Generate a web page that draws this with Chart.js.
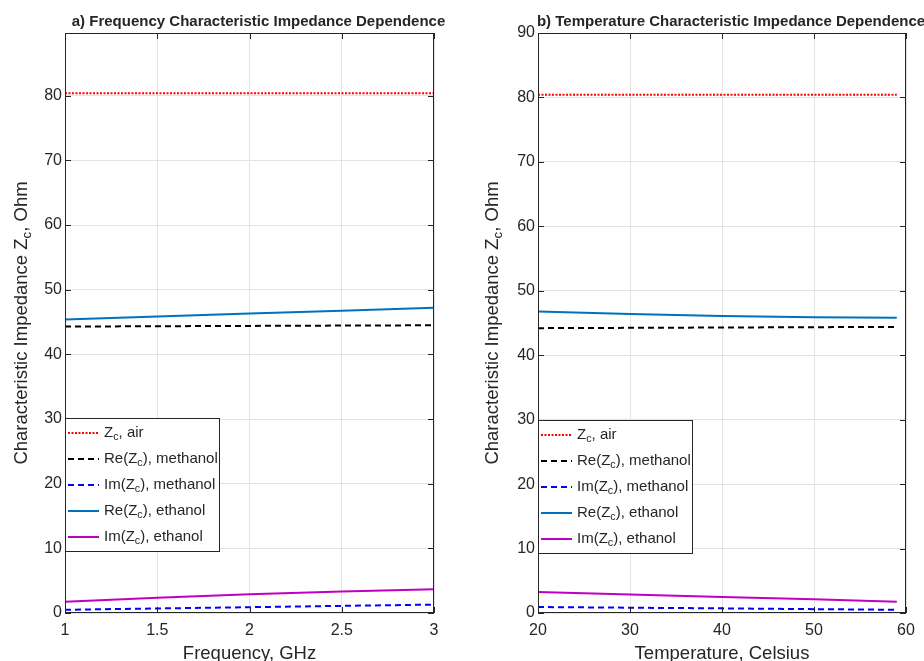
<!DOCTYPE html>
<html>
<head>
<meta charset="utf-8">
<script src="https://cdn.jsdelivr.net/npm/chart.js@4.4.0/dist/chart.umd.min.js"></script>
<style>
  body { margin: 0; background: #fff; }
  #wrap { position: relative; width: 924px; height: 661px; overflow: hidden; }
  canvas { position: absolute; top: 0; }
</style>
</head>
<body>
<div id="wrap">
  <canvas id="chartA" width="462" height="661" style="left:0"></canvas>
  <canvas id="chartB" width="462" height="661" style="left:462px"></canvas>
</div>
<script>
// a) frequency dependence
const freq = [1, 1.5, 2, 2.5, 3];
const airF = [80.4, 80.4, 80.4, 80.4, 80.4];
const reMethF = [44.3, 44.35, 44.4, 44.45, 44.5];
const imMethF = [0.5, 0.7, 0.9, 1.1, 1.3];
const reEthF = [45.4, 45.85, 46.3, 46.75, 47.2];
const imEthF = [1.75, 2.37, 2.9, 3.33, 3.67];

// b) temperature dependence
const temp = [20, 30, 40, 50, 59];
const airT = [80.4, 80.4, 80.4, 80.4, 80.4];
const reMethT = [44.2, 44.25, 44.3, 44.35, 44.4];
const imMethT = [0.93, 0.82, 0.72, 0.6, 0.5];
const reEthT = [46.8, 46.4, 46.1, 45.9, 45.8];
const imEthT = [3.26, 2.88, 2.5, 2.12, 1.75];

// ticks
const freqTicks = [1, 1.5, 2, 2.5, 3];
const tempTicks = [20, 30, 40, 50, 60];
const zTicksA = [0, 10, 20, 30, 40, 50, 60, 70, 80];
const zTicksB = [0, 10, 20, 30, 40, 50, 60, 70, 80, 90];

// legend labels, [text, isSubscript]
const legendLabels = [
  [['Z', 0], ['c', 1], [', air', 0]],
  [['Re(Z', 0], ['c', 1], ['), methanol', 0]],
  [['Im(Z', 0], ['c', 1], ['), methanol', 0]],
  [['Re(Z', 0], ['c', 1], ['), ethanol', 0]],
  [['Im(Z', 0], ['c', 1], ['), ethanol', 0]]
];
const yTitle = [['Characteristic Impedance Z', 0], ['c', 1], [', Ohm', 0]];

const lineStyles = [
  { color: '#ff0000', dash: [2, 1.5], width: 2 },
  { color: '#000000', dash: [6, 4], width: 2 },
  { color: '#0000ff', dash: [6, 4], width: 2 },
  { color: '#0072bd', dash: [], width: 2 },
  { color: '#c000c0', dash: [], width: 2 }
];

const TXT = '#262626';
const FONT = '"Liberation Sans", Arial, sans-serif';

function pts(xs, ys) {
  return xs.map((x, i) => ({ x: x, y: ys[i] }));
}

// text with subscripts, starting at x, middle at y
function partsWidth(ctx, parts, size) {
  let w = 0;
  parts.forEach(p => {
    ctx.font = (p[1] ? size * 0.72 : size) + 'px ' + FONT;
    w += ctx.measureText(p[0]).width;
  });
  return w;
}
function drawParts(ctx, parts, x, y, size) {
  ctx.textAlign = 'left';
  ctx.textBaseline = 'middle';
  parts.forEach(p => {
    ctx.font = (p[1] ? size * 0.72 : size) + 'px ' + FONT;
    ctx.fillText(p[0], x, p[1] ? y + size * 0.3 : y);
    x += ctx.measureText(p[0]).width;
  });
}

const decor = {
  id: 'decor',
  afterDraw(chart) {
    const o = chart.options.plugins.decor;
    const { ctx, chartArea: a, scales } = chart;
    const xs = scales.x, ys = scales.y;
    ctx.save();
    ctx.fillStyle = TXT;
    ctx.strokeStyle = TXT;

    // title
    ctx.font = 'bold 15px ' + FONT;
    ctx.textAlign = 'center';
    ctx.textBaseline = 'alphabetic';
    ctx.fillText(o.title, (a.left + a.right) / 2 + 9, 26);

    // x axis title
    ctx.font = '18.5px ' + FONT;
    ctx.fillText(o.xTitle, (a.left + a.right) / 2, 659);

    // y axis title
    ctx.save();
    ctx.translate(o.yTitleX, (a.top + a.bottom) / 2);
    ctx.rotate(-Math.PI / 2);
    const w = partsWidth(ctx, yTitle, 18.5);
    drawParts(ctx, yTitle, -w / 2, 0, 18.5);
    ctx.restore();

    // box
    ctx.lineWidth = 1;
    ctx.strokeRect(a.left + 0.5, a.top + 0.5, a.right - a.left - 1, a.bottom - a.top - 1);

    // inward ticks
    const tl = 6;
    ctx.beginPath();
    o.xTicks.forEach(v => {
      const px = Math.round(xs.getPixelForValue(v)) + 0.5;
      ctx.moveTo(px, a.bottom); ctx.lineTo(px, a.bottom - tl);
      ctx.moveTo(px, a.top); ctx.lineTo(px, a.top + tl);
    });
    o.yTicks.forEach(v => {
      const py = Math.round(ys.getPixelForValue(v)) + 0.5;
      ctx.moveTo(a.left, py); ctx.lineTo(a.left + tl, py);
      ctx.moveTo(a.right, py); ctx.lineTo(a.right - tl, py);
    });
    ctx.stroke();

    // legend
    const lg = o.legend;
    ctx.fillStyle = '#ffffff';
    ctx.fillRect(lg.x, lg.y, lg.w, lg.h);
    ctx.strokeStyle = TXT;
    ctx.lineWidth = 1;
    ctx.strokeRect(lg.x + 0.5, lg.y + 0.5, lg.w, lg.h);
    legendLabels.forEach((parts, i) => {
      const cy = lg.y + 15 + i * 26;
      const st = lineStyles[i];
      ctx.beginPath();
      ctx.strokeStyle = st.color;
      ctx.lineWidth = st.width;
      ctx.setLineDash(st.dash);
      ctx.moveTo(lg.x + 3, cy);
      ctx.lineTo(lg.x + 34, cy);
      ctx.stroke();
      ctx.setLineDash([]);
      ctx.fillStyle = TXT;
      drawParts(ctx, parts, lg.x + 39, cy, 15);
    });
    ctx.restore();
  }
};

function makeChart(id, xVals, series, cfg) {
  const datasets = series.map((ys, i) => ({
    data: pts(xVals, ys),
    borderColor: lineStyles[i].color,
    borderDash: lineStyles[i].dash,
    borderWidth: lineStyles[i].width,
    pointRadius: 0,
    fill: false,
    tension: 0
  }));
  return new Chart(document.getElementById(id), {
    type: 'line',
    data: { datasets: datasets },
    plugins: [decor],
    options: {
      responsive: false,
      animation: false,
      layout: { padding: { left: 0, right: cfg.padRight, top: 33, bottom: 0 } },
      plugins: {
        legend: { display: false },
        title: { display: false },
        tooltip: { enabled: false },
        decor: cfg.decor
      },
      scales: {
        x: {
          type: 'linear',
          min: cfg.xMin, max: cfg.xMax,
          afterBuildTicks: s => { s.ticks = cfg.decor.xTicks.map(v => ({ value: v })); },
          afterFit: s => { s.height = 48; },
          grid: { color: '#e3e3e3', drawTicks: false },
          border: { display: false },
          ticks: {
            color: TXT, font: { family: FONT, size: 16 }, padding: 8, maxRotation: 0,
            callback: v => String(v)
          }
        },
        y: {
          min: 0, max: cfg.yMax,
          afterBuildTicks: s => { s.ticks = cfg.decor.yTicks.map(v => ({ value: v })); },
          afterFit: s => { s.width = cfg.yWidth; },
          grid: { color: '#e3e3e3', drawTicks: false },
          border: { display: false },
          ticks: { color: TXT, font: { family: FONT, size: 16 }, padding: 3, callback: v => String(v) }
        }
      }
    }
  });
}

makeChart('chartA', freq, [airF, reMethF, imMethF, reEthF, imEthF], {
  xMin: 1, xMax: 3, yMax: 89.7, yWidth: 65, padRight: 28,
  decor: {
    title: 'a) Frequency Characteristic Impedance Dependence',
    xTitle: 'Frequency, GHz',
    yTitleX: 22,
    xTicks: freqTicks, yTicks: zTicksA,
    legend: { x: 65, y: 418, w: 154, h: 133 }
  }
});

makeChart('chartB', temp, [airT, reMethT, imMethT, reEthT, imEthT], {
  xMin: 20, xMax: 60, yMax: 90, yWidth: 76, padRight: 18,
  decor: {
    title: 'b) Temperature Characteristic Impedance Dependence',
    xTitle: 'Temperature, Celsius',
    yTitleX: 31,
    xTicks: tempTicks, yTicks: zTicksB,
    legend: { x: 76, y: 420, w: 154, h: 133 }
  }
});
</script>
</body>
</html>
